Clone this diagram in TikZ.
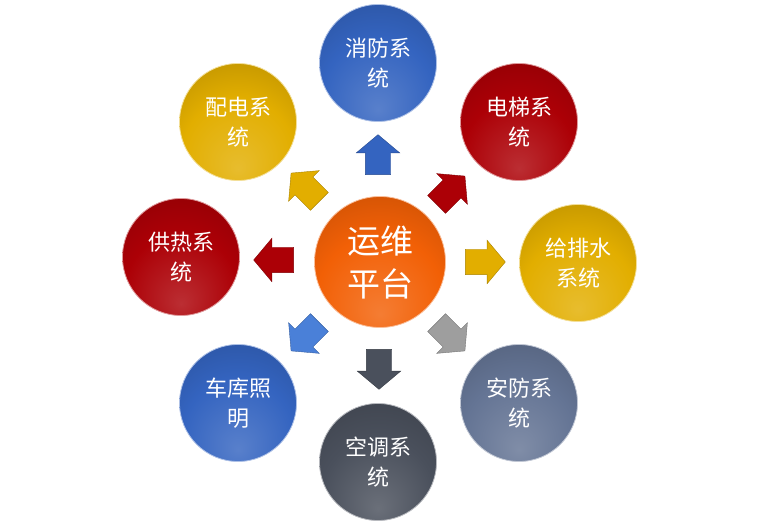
\documentclass[tikz,border=0pt]{standalone}
\usepackage{fontspec}
\newfontfamily\cjk{Noto Sans CJK SC}
\usetikzlibrary{shapes.arrows}
\pgfdeclareradialshading[gl,gb,gd]{glossy}{\pgfpoint{0bp}{-20bp}}{%
  color(0bp)=(gl); color(24bp)=(gb); color(48bp)=(gd); color(54bp)=(gd!85!black); color(80bp)=(gd!85!black)}
\definecolor{cBlue}{RGB}{52,100,192}
\definecolor{cBlueL}{RGB}{74,128,216}
\definecolor{cRed}{RGB}{172,0,6}
\definecolor{cYel}{RGB}{226,174,0}
\definecolor{cSlate}{RGB}{100,116,148}
\definecolor{cDark}{RGB}{74,80,92}
\definecolor{cGray}{RGB}{158,158,158}
\definecolor{cOrange}{RGB}{242,96,6}
\tikzset{
  ball/.style={circle, minimum size=117pt, inner sep=0pt, text=white, align=center,
    font=\cjk\fontsize{22}{30}\selectfont, draw=#1!40!white, line width=0.8pt,
    /utils/exec={\colorlet{gl}{#1!82!white}\colorlet{gb}{#1}\colorlet{gd}{#1!78!black}},
    shading=glossy},
  hub/.style={ball=#1, minimum size=131pt, font=\cjk\fontsize{33}{43}\selectfont},
  blk/.style={single arrow, fill=#1, draw=#1!75!black, line width=0.4pt,
    minimum height=40pt, inner xsep=0pt, inner ysep=12.5pt, single arrow head extend=9pt,
    single arrow tip angle=100}
}
\begin{document}
\begin{tikzpicture}[x=1pt,y=-1pt]
\useasboundingbox (0,0) rectangle (758,529);
\node[hub=cOrange] (c) at (380,262) {运维\\平台};
\node[ball=cBlue]  (n1) at (378,63)  {消防系\\统};
\node[ball=cRed]   (n2) at (519,122) {电梯系\\统};
\node[ball=cYel]   (n3) at (578,263) {给排水\\系统};
\node[ball=cSlate] (n4) at (519,403) {安防系\\统};
\node[ball=cDark]  (n5) at (378,462) {空调系\\统};
\node[ball=cBlue]  (n6) at (238,403) {车库照\\明};
\node[ball=cRed]   (n7) at (181,257) {供热系\\统};
\node[ball=cYel]   (n8) at (238,122) {配电系\\统};
\node[blk=cBlue, rotate=90]    (a1) at (378,160) {};
\node[blk=cRed, rotate=45]     (a2) at (447,194) {};
\node[blk=cYel, rotate=0]      (a3) at (480,262) {};
\node[blk=cGray, rotate=-45]   (a4) at (447,333) {};
\node[blk=cDark, rotate=-90]   (a5) at (379,364) {};
\node[blk=cBlueL, rotate=-135] (a6) at (309,333) {};
\node[blk=cRed, rotate=180]    (a7) at (279,260) {};
\node[blk=cYel, rotate=135]    (a8) at (309,191) {};
\end{tikzpicture}
\end{document}
